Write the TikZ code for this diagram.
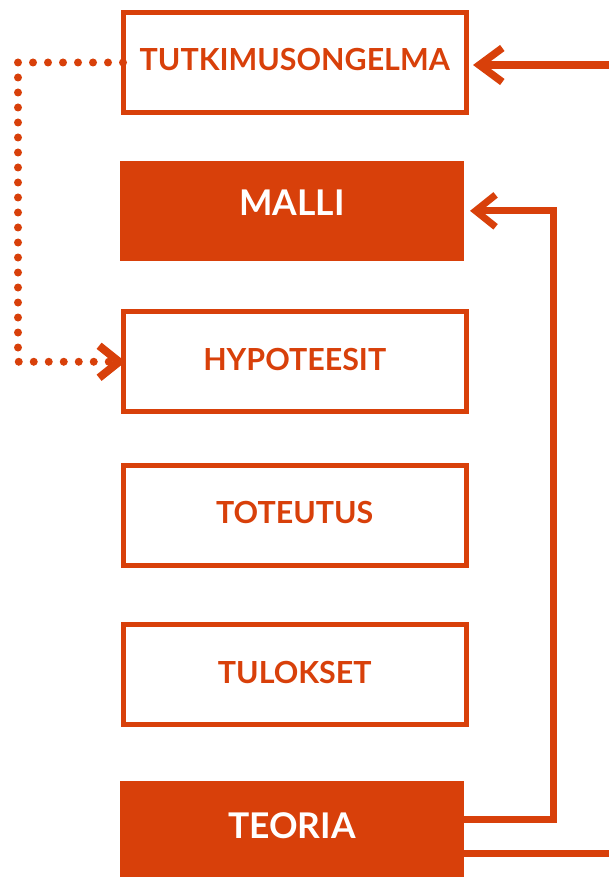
\documentclass[tikz,border=0pt]{standalone}
\usepackage{fontspec}
\newfontfamily\latofont{Lato}
\usetikzlibrary{arrows.meta}
\definecolor{acc}{RGB}{216,64,10}
\begin{document}
\begin{tikzpicture}[x=1pt,y=-1pt,
  obox/.style={draw=acc, line width=5pt, minimum width=343.5pt, minimum height=100pt,
    inner sep=0pt, outer sep=0pt, text=acc,
    font=\latofont\bfseries\fontsize{30.4}{32}\selectfont, text height=17pt, text depth=0pt},
  fbox/.style={fill=acc, minimum width=344pt, inner sep=0pt, outer sep=0pt, text=white,
    font=\latofont\bfseries\fontsize{35.4}{38}\selectfont, text depth=0pt},
  conn/.style={draw=acc, line width=7pt},
  barb/.style={-{Straight Barb[length=20pt,width=32pt]}},
  bigbarb/.style={-{Straight Barb[length=23pt,width=34pt]}},
  dotline/.style={draw=acc, line width=8pt, line cap=round, dash pattern=on 0pt off 15pt}
]
\useasboundingbox (0,0) rectangle (609,877);
\node[obox] (t) at (294.75,62.5) {TUTKIMUSONGELMA};
\node[fbox, minimum height=99.7pt, text height=10.3pt] (m) at (292,210.85) {MALLI};
\node[obox] (h) at (294.75,361.75) {HYPOTEESIT};
\node[obox] (to) at (294.75,515) {TOTEUTUS};
\node[obox] (tu) at (294.75,674.5) {TULOKSET};
\node[fbox, minimum height=96.3pt, text height=18.3pt] (te) at (292,828.85) {TEORIA};
\coordinate (in1) at (609,65);
\draw[conn, line width=7.5pt, bigbarb, shorten >=6.5pt] (in1) -- (in1 -| t.east);
\draw[conn, barb, shorten >=6pt] ([yshift=9.85pt]te.east) -- ++(89.5,0) |- (m.east);
\draw[conn] ([yshift=-24.15pt]te.east) -- ++(145,0);
\draw[dotline, barb, shorten >=-2.5pt] (t.west) -- ++(-105,0) |- (h.west);
\end{tikzpicture}
\end{document}
